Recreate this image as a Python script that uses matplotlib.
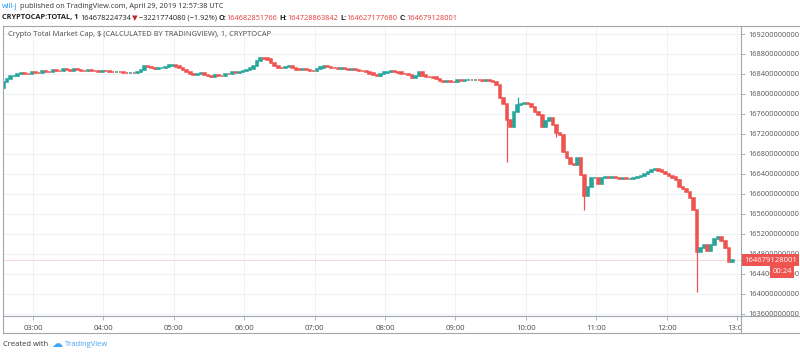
import numpy as np
import matplotlib
matplotlib.use("Agg")
import matplotlib.pyplot as plt
from matplotlib.lines import Line2D
from matplotlib.transforms import Bbox, TransformedBbox

plt.rcParams["font.family"] = ["Open Sans", "DejaVu Sans"]

# 3-minute candles, closes in billions of USD, first candle at 02:35 UTC
start_minute = 155
step_minutes = 3
first_open = 168.12
closes = [
    168.24, 168.30, 168.36, 168.37, 168.40, 168.42, 168.41, 168.40, 168.44, 168.43,
    168.42, 168.46, 168.45, 168.44, 168.48, 168.47, 168.46, 168.49, 168.48, 168.47,
    168.49, 168.48, 168.47, 168.46, 168.48, 168.47, 168.46, 168.45, 168.47, 168.46,
    168.45, 168.44, 168.45, 168.44, 168.43, 168.42, 168.43, 168.42, 168.44, 168.48,
    168.56, 168.54, 168.52, 168.51, 168.52, 168.53, 168.54, 168.57, 168.58, 168.55,
    168.52, 168.48, 168.45, 168.41, 168.39, 168.41, 168.42, 168.38, 168.36, 168.35,
    168.38, 168.37, 168.36, 168.41, 168.40, 168.44, 168.43, 168.45, 168.46, 168.48,
    168.51, 168.56, 168.66, 168.73, 168.71, 168.69, 168.63, 168.56, 168.53, 168.52,
    168.54, 168.55, 168.52, 168.49, 168.48, 168.49, 168.48, 168.47, 168.46, 168.50,
    168.53, 168.55, 168.54, 168.53, 168.52, 168.51, 168.52, 168.50, 168.49, 168.50,
    168.48, 168.47, 168.46, 168.44, 168.41, 168.38, 168.37, 168.40, 168.43, 168.45,
    168.46, 168.45, 168.43, 168.41, 168.40, 168.38, 168.33, 168.36, 168.44, 168.37,
    168.35, 168.34, 168.33, 168.30, 168.26, 168.25, 168.26, 168.25, 168.24, 168.27,
    168.26, 168.28, 168.29, 168.28, 168.29, 168.28, 168.27, 168.28, 168.26, 168.25,
    168.18, 167.92, 167.80, 167.48, 167.34, 167.64, 167.78, 167.80, 167.82, 167.80,
    167.74, 167.64, 167.58, 167.34, 167.46, 167.52, 167.38, 167.22, 167.18, 166.84,
    166.72, 166.60, 166.58, 166.72, 166.38, 165.96, 166.14, 166.32, 166.32, 166.20,
    166.32, 166.34, 166.32, 166.33, 166.32, 166.31, 166.32, 166.30, 166.31, 166.32,
    166.34, 166.36, 166.40, 166.44, 166.48, 166.50, 166.47, 166.44, 166.40, 166.36,
    166.33, 166.28, 166.14, 166.10, 166.04, 165.92, 165.68, 164.84, 164.92, 164.98,
    164.86, 164.98, 165.10, 165.14, 165.06, 164.92, 164.64, 164.679128001,
]
spike_idx = [143, 146, 157, 165, 197]
spike_val = [166.64, 167.94, 167.14, 165.68, 164.04]

last_price = 164.679128001
y_ticks = [163.6, 164.0, 164.4, 164.8, 165.2, 165.6, 166.0, 166.4,
           166.8, 167.2, 167.6, 168.0, 168.4, 168.8, 169.2]
x_ticks = [180, 240, 300, 360, 420, 480, 540, 600, 660, 720, 780]
x_labels = ["03:00", "04:00", "05:00", "06:00", "07:00", "08:00",
            "09:00", "10:00", "11:00", "12:00", "13:00"]

UP = "#26a69a"
DOWN = "#ef5350"
FRAME = "#a3a6ad"
GRID = "#eef1f6"
FS = 5.3

W, H = 800, 355
fig = plt.figure(figsize=(8, 3.55), dpi=100)
fig.patch.set_facecolor("white")

def fx(px):
    return px / W

def fy(py):
    return 1 - py / H

ax = fig.add_axes([fx(3), fy(316), fx(741 - 3), (316 - 26) / H])

closes = np.array(closes)
opens = np.concatenate([[first_open], closes[:-1]])
times = start_minute + step_minutes * np.arange(len(closes))
highs = np.maximum(opens, closes)
lows = np.minimum(opens, closes)
for i, v in zip(spike_idx, spike_val):
    highs[i] = max(highs[i], v)
    lows[i] = min(lows[i], v)

colors = [UP if c >= o else DOWN for o, c in zip(opens, closes)]
ax.vlines(times, lows, highs, colors=colors, lw=0.9, zorder=3)
ax.bar(times, np.abs(closes - opens), bottom=np.minimum(opens, closes),
       width=2.2, color=colors, edgecolor=colors, linewidth=1.1, zorder=3)

ax.axhline(last_price, color="#f7a3a1", lw=0.6, ls=(0, (1, 1)), zorder=2)

ax.set_xlim(154.43, 783.4)
ax.set_ylim(163.56, 169.36)
ax.set_xticks(x_ticks)
ax.set_xticklabels(x_labels)
ax.set_yticks(y_ticks)
ax.set_yticklabels(["%d" % round(v * 1e9) for v in y_ticks])
ax.yaxis.tick_right()
ax.tick_params(axis="y", length=3, width=0.6, color=FRAME, labelsize=5.3,
               labelcolor="#555555", pad=2)
ax.tick_params(axis="x", length=3, width=0.6, color=FRAME, labelsize=5.6,
               labelcolor="#4a4a4a", pad=3.5)
ax.grid(True, color=GRID, lw=0.7, zorder=0)
ax.set_axisbelow(True)
for s in ax.spines.values():
    s.set_visible(False)

xclip = TransformedBbox(Bbox([[0, -1], [1, 1]]), ax.transAxes)
for t in ax.xaxis.get_major_ticks():
    t.label1.set_clip_box(xclip)
    t.label1.set_clip_on(True)
yclip = TransformedBbox(Bbox([[1, 0], [2, 1]]), ax.transAxes)
for t in ax.yaxis.get_major_ticks():
    t.label2.set_clip_box(yclip)
    t.label2.set_clip_on(True)

# last price labels on the price scale
ytr = ax.get_yaxis_transform()
ax.text(1.004, last_price, "164679128001", transform=ytr, va="center", ha="left",
        fontsize=5.5, color="white", zorder=10, clip_on=False,
        bbox=dict(boxstyle="square,pad=0.3", fc=DOWN, ec="none"))
ax.text(1.056, last_price - 0.235, "00:24", transform=ytr, va="center", ha="center",
        fontsize=5.5, color="white", zorder=10, clip_on=False,
        bbox=dict(boxstyle="square,pad=0.3", fc=DOWN, ec="none"))

# chart frame
for x0, y0, x1, y1 in [(3, 26, 800, 26), (3, 26, 3, 333), (3, 333, 800, 333),
                       (741, 26, 741, 333), (3, 316, 800, 316)]:
    fig.add_artist(Line2D([fx(x0), fx(x1)], [fy(y0), fy(y1)], color=FRAME, lw=0.8))

ax.text(0.007, 0.97, "Crypto Total Market Cap, $ (CALCULATED BY TRADINGVIEW), 1, CRYPTOCAP",
        transform=ax.transAxes, va="center", ha="left", fontsize=5.4, color="#4a4a4a")

# header
renderer = fig.canvas.get_renderer()

def put(x, y, s, **kw):
    t = fig.text(fx(x), fy(y), s, va="center", ha="left", **kw)
    return t.get_window_extent(renderer).x1

x = put(2, 7, "will-j", fontsize=FS, color="#2196f3")
put(x + 2, 7, "published on TradingView.com, April 29, 2019 12:57:38 UTC",
    fontsize=FS, color="#333333")

RED = "#e53935"
x = put(2, 18, "CRYPTOCAP:TOTAL, 1", fontsize=FS, color="#222222", fontweight="bold")
x = put(x + 2, 18, "164678224734", fontsize=FS, color="#222222")
x = put(x + 1, 18, "\u25bc", fontsize=FS, color="#c62828", family="DejaVu Sans")
x = put(x + 1, 18, "\u22123221774080 (\u22121.92%)", fontsize=FS, color="#222222")
for lab, val in [("O:", "164682851766"), ("H:", "164728863842"),
                 ("L:", "164627177680"), ("C:", "164679128001")]:
    x = put(x + 2, 18, lab, fontsize=FS, color="#222222", fontweight="bold")
    x = put(x, 18, val, fontsize=FS, color=RED)

# footer
x = put(3, 344, "Created with", fontsize=5.5, color="#333333")
put(x + 17, 344, "TradingView", fontsize=5.5, color="#42a5f5")
fig.text(fx(x + 9), fy(344), "\u2601", fontsize=8, color="#42a5f5",
         family="DejaVu Sans", va="center", ha="center")

fig.savefig("out.png", dpi=100)
